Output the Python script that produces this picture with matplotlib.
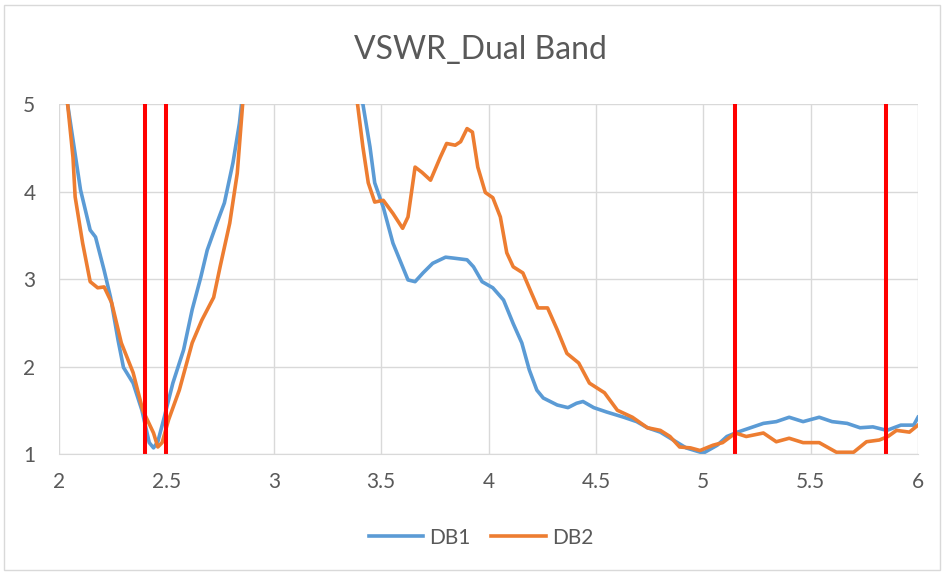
import numpy as np
import matplotlib.pyplot as plt
from matplotlib.patches import Rectangle

# --- Data (frequency in GHz, VSWR) ---
db1_freq_lo = [2.04, 2.10, 2.145, 2.17, 2.21, 2.24, 2.275, 2.30, 2.345, 2.386, 2.42, 2.44,
               2.46, 2.49, 2.53, 2.58, 2.62, 2.66, 2.69, 2.735, 2.77, 2.81, 2.84, 2.85]
db1_vswr_lo = [5.0, 4.02, 3.56, 3.48, 3.10, 2.79, 2.30, 1.99, 1.81, 1.50, 1.13, 1.07,
               1.14, 1.42, 1.81, 2.19, 2.65, 3.02, 3.33, 3.64, 3.87, 4.33, 4.78, 5.0]
db1_freq_hi = [3.415, 3.448, 3.47, 3.51, 3.555, 3.60, 3.625, 3.658, 3.695, 3.74, 3.80, 3.835,
               3.90, 3.93, 3.97, 4.02, 4.07, 4.115, 4.155, 4.19, 4.225, 4.255, 4.32, 4.37,
               4.41, 4.44, 4.49, 4.55, 4.63, 4.69, 4.74, 4.80, 4.86, 4.92, 5.0, 5.065,
               5.11, 5.16, 5.22, 5.28, 5.34, 5.40, 5.465, 5.54, 5.60, 5.67, 5.73, 5.79,
               5.855, 5.92, 5.98, 6.0]
db1_vswr_hi = [5.0, 4.51, 4.10, 3.82, 3.41, 3.14, 2.99, 2.97, 3.07, 3.18, 3.25, 3.24,
               3.22, 3.14, 2.97, 2.90, 2.76, 2.49, 2.27, 1.96, 1.73, 1.64, 1.56, 1.53,
               1.58, 1.60, 1.53, 1.48, 1.42, 1.37, 1.30, 1.25, 1.16, 1.07, 1.01, 1.10,
               1.20, 1.25, 1.30, 1.35, 1.37, 1.42, 1.37, 1.42, 1.37, 1.35, 1.30, 1.31,
               1.27, 1.33, 1.33, 1.42]

db2_freq_lo = [2.04, 2.065, 2.075, 2.11, 2.145, 2.18, 2.21, 2.245, 2.29, 2.345, 2.39, 2.44,
               2.46, 2.48, 2.51, 2.56, 2.62, 2.665, 2.72, 2.75, 2.795, 2.83, 2.855]
db2_vswr_lo = [5.0, 4.39, 3.94, 3.41, 2.97, 2.90, 2.91, 2.73, 2.27, 1.93, 1.50, 1.24,
               1.08, 1.13, 1.39, 1.73, 2.27, 2.53, 2.79, 3.14, 3.64, 4.21, 5.0]
db2_freq_hi = [3.39, 3.415, 3.44, 3.47, 3.51, 3.555, 3.60, 3.625, 3.658, 3.69, 3.73, 3.775,
               3.805, 3.845, 3.87, 3.90, 3.925, 3.95, 3.985, 4.02, 4.055, 4.085, 4.115, 4.16,
               4.20, 4.23, 4.275, 4.32, 4.365, 4.42, 4.47, 4.54, 4.60, 4.67, 4.74, 4.80,
               4.845, 4.89, 4.94, 4.985, 5.045, 5.09, 5.15, 5.20, 5.28, 5.34, 5.40, 5.465,
               5.54, 5.62, 5.70, 5.76, 5.82, 5.86, 5.90, 5.96, 6.0]
db2_vswr_hi = [5.0, 4.51, 4.10, 3.88, 3.90, 3.75, 3.58, 3.71, 4.28, 4.22, 4.13, 4.39,
               4.55, 4.53, 4.57, 4.72, 4.68, 4.28, 3.99, 3.93, 3.71, 3.30, 3.14, 3.07,
               2.84, 2.67, 2.67, 2.42, 2.15, 2.04, 1.81, 1.70, 1.50, 1.42, 1.30, 1.27,
               1.20, 1.08, 1.07, 1.04, 1.10, 1.13, 1.24, 1.20, 1.24, 1.14, 1.18, 1.13,
               1.13, 1.02, 1.02, 1.14, 1.16, 1.20, 1.27, 1.25, 1.33]

band_edges = [2.4, 2.5, 5.15, 5.85]

# --- Plot ---
plt.rcParams['font.family'] = ['Lato', 'DejaVu Sans']
text_color = '#595959'

fig = plt.figure(figsize=(9.43, 5.72), dpi=100)
fig.patches.append(Rectangle((0.004, 0.003), 0.993, 0.988, transform=fig.transFigure,
                             fill=False, edgecolor='#d9d9d9', linewidth=1))
ax = fig.add_axes([0.0626, 0.2063, 0.9109, 0.6117])

blue = '#5b9bd5'
orange = '#ed7d31'
ax.plot(db1_freq_lo, db1_vswr_lo, color=blue, linewidth=2.6, label='DB1')
ax.plot(db1_freq_hi, db1_vswr_hi, color=blue, linewidth=2.6)
ax.plot(db2_freq_lo, db2_vswr_lo, color=orange, linewidth=2.6, label='DB2')
ax.plot(db2_freq_hi, db2_vswr_hi, color=orange, linewidth=2.6)

for f in band_edges:
    ax.axvline(f, color='#ff0000', linewidth=2.9)

ax.set_xlim(2, 6)
ax.set_ylim(1, 5)
ax.set_xticks([2, 2.5, 3, 3.5, 4, 4.5, 5, 5.5, 6])
ax.set_xticklabels(['2', '2.5', '3', '3.5', '4', '4.5', '5', '5.5', '6'])
ax.set_yticks([1, 2, 3, 4, 5])
ax.grid(True, color='#d9d9d9', linewidth=1)
ax.set_axisbelow(True)
for s in ['top', 'right', 'left']:
    ax.spines[s].set_visible(False)
ax.spines['bottom'].set_color('#d9d9d9')
ax.tick_params(length=0, labelsize=15, colors=text_color)
ax.tick_params(axis='y', pad=17)
ax.tick_params(axis='x', pad=13)

fig.text(0.51, 0.9126, 'VSWR_Dual Band', ha='center', va='center', fontsize=23, color=text_color)
fig.legend(loc='center', bbox_to_anchor=(0.51, 0.06), ncol=2, frameon=False,
           fontsize=15, labelcolor=text_color, handlelength=2.6, handletextpad=0.3,
           columnspacing=1.0)

fig.savefig('out.png', dpi=100)
